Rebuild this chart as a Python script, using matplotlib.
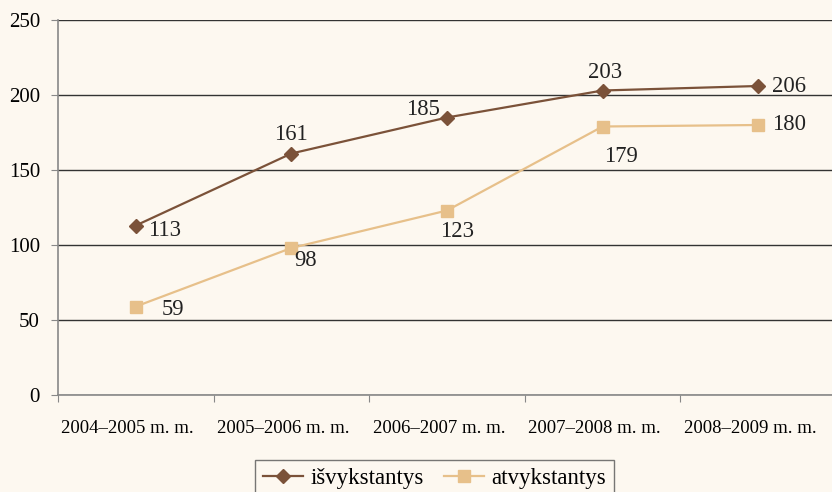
import numpy as np
import matplotlib as mpl
mpl.use('Agg')
import matplotlib.pyplot as plt
import matplotlib.transforms as mtransforms

# ==== data ====
years = ['2004–2005 m. m.', '2005–2006 m. m.', '2006–2007 m. m.',
         '2007–2008 m. m.', '2008–2009 m. m.']
isvyk = [113, 161, 185, 203, 206]
atvyk = [59, 98, 123, 179, 180]

# label offsets in points (dx, dy)
isvyk_off = [(21, -3.6), (0, 14), (-17, 6), (2, 13), (22, 0)]
atvyk_off = [(27, -2), (10, -9), (7, -15), (13.5, -21.5), (22, 0)]

bg = '#FDF8F0'
brown = '#7B5239'
tan = '#E7C08A'

plt.rcParams['font.family'] = ['Liberation Serif', 'DejaVu Serif']

fig = plt.figure(figsize=(8.32, 4.92), dpi=100, facecolor=bg)
ax = fig.add_axes([58 / 832, 1 - 395 / 492, 778 / 832, 375 / 492])
ax.set_facecolor(bg)

x = np.arange(len(years))
ax.plot(x, isvyk, color=brown, lw=1.6, marker='D', ms=7, label='išvykstantys', zorder=3)
ax.plot(x, atvyk, color=tan, lw=1.6, marker='s', ms=8, label='atvykstantys', zorder=3)

for i in range(len(x)):
    ax.annotate(str(isvyk[i]), (x[i], isvyk[i]), xytext=isvyk_off[i], textcoords='offset points',
                ha='center', va='center', fontsize=16.3, color='#222222')
    ax.annotate(str(atvyk[i]), (x[i], atvyk[i]), xytext=atvyk_off[i], textcoords='offset points',
                ha='center', va='center', fontsize=16.3, color='#222222')

ax.set_xlim(-0.5, len(years) - 0.5)
ax.set_ylim(0, 250)
ax.set_yticks([0, 50, 100, 150, 200, 250])
ax.yaxis.grid(True, color='#333333', lw=1)
ax.set_axisbelow(True)

# category labels between boundary ticks
ax.set_xticks(np.arange(len(years) + 1) - 0.5)
ax.set_xticklabels([])
ax.set_xticks(x, minor=True)
ax.set_xticklabels(years, minor=True, fontsize=13.5)
ax.tick_params(axis='x', which='minor', length=0, pad=18)
ax.tick_params(axis='x', which='major', length=5, color='#888888')
ax.tick_params(axis='y', labelsize=15, length=5, color='#888888', pad=8)

# labels sit a little left of the category centre in the original
shift = mtransforms.ScaledTranslation(-8 / 100, 0, fig.dpi_scale_trans)
for lbl in ax.get_xticklabels(minor=True):
    lbl.set_transform(lbl.get_transform() + shift)

for s in ['top', 'right']:
    ax.spines[s].set_visible(False)
ax.spines['left'].set_color('#888888')
ax.spines['bottom'].set_color('#888888')
ax.spines['left'].set_linewidth(1.2)
ax.spines['bottom'].set_linewidth(1.2)

leg = ax.legend(loc='upper center', bbox_to_anchor=(0.484, -0.173), ncol=2, fontsize=16.5,
                frameon=True, fancybox=False, edgecolor='#555555', facecolor=bg,
                handlelength=1.75, columnspacing=0.85, borderpad=0.35, handletextpad=0.35,
                borderaxespad=0)
leg.get_frame().set_linewidth(1.0)

fig.savefig('out.png', dpi=100, facecolor=bg)
